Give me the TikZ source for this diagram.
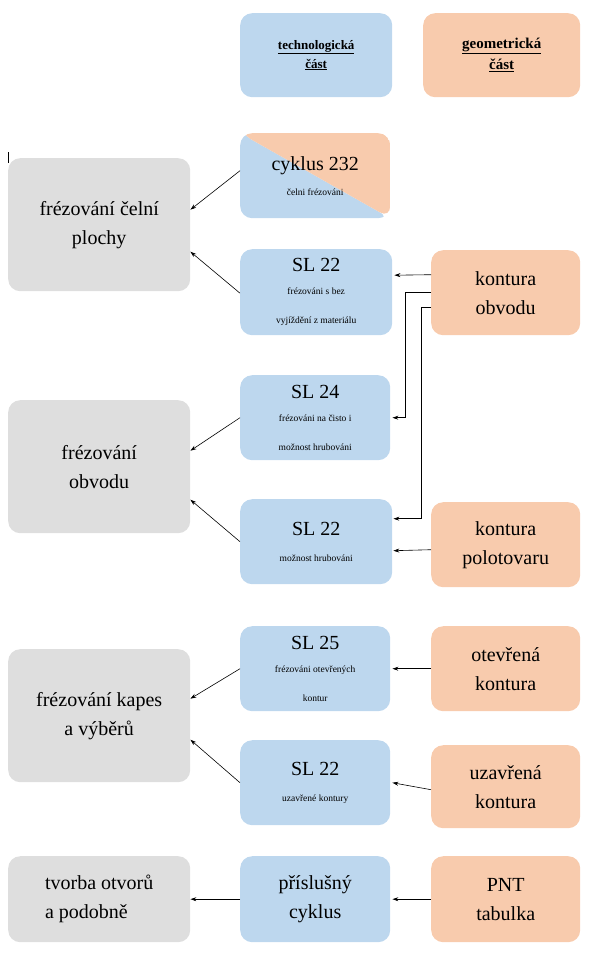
\documentclass[tikz,border=0pt]{standalone}
\usepackage{fontspec}
\setmainfont{Liberation Serif}
\usetikzlibrary{arrows.meta}
\definecolor{cblue}{HTML}{BDD7EE}
\definecolor{corange}{HTML}{F8CBAD}
\definecolor{cgray}{HTML}{DEDEDE}
\tikzset{
  bx/.style={rounded corners=12pt, inner sep=0pt, align=center, anchor=north west, font=\fontsize{20}{29}\selectfont},
  bl/.style={bx, fill=cblue},
  og/.style={bx, fill=corange},
  gr/.style={bx, fill=cgray},
  arr/.style={-{Stealth[length=6pt,width=4pt]}, line width=0.6pt},
}
\newcommand{\smf}{\fontsize{9.5}{15}\selectfont}
\begin{document}
\begin{tikzpicture}[x=1pt,y=-1pt]
\useasboundingbox (0,0) rectangle (601,956);
% headers
\node[bl, minimum width=152pt, minimum height=84pt, font=\fontsize{13}{19}\selectfont\bfseries] (ht) at (240,13) {\underline{technologická}\\\underline{část}};
\node[og, minimum width=157pt, minimum height=84pt, font=\fontsize{15}{21}\selectfont\bfseries] (hg) at (423,13) {\underline{geometrická}\\\underline{část}};
% gray
\node[gr, minimum width=182pt, minimum height=133pt] (g1) at (8,158) {frézování čelní\\plochy};
\node[gr, minimum width=182pt, minimum height=133pt] (g2) at (8,400) {frézování\\obvodu};
\node[gr, minimum width=182pt, minimum height=133pt] (g3) at (8,649) {frézování kapes\\a výběrů};
\node[gr, minimum width=182pt, minimum height=86pt, align=left] (g4) at (8,856) {tvorba otvorů\\a podobně};
% cyklus with diagonal split
\node[bx, minimum width=150pt, minimum height=85pt,
  path picture={\fill[cblue] (path picture bounding box.north west) -- (path picture bounding box.south east) -| cycle;
  \fill[corange] (path picture bounding box.north west) -- (path picture bounding box.south east) |- cycle;}] (cy) at (240,133) {cyklus 232\\[-4pt]\smf čelni frézováni};
% blue
\node[bl, minimum width=152pt, minimum height=86pt] (s1) at (240,249) {SL 22\\[-6pt]\smf frézováni s bez\\\smf vyjíždění z materiálu};
\node[bl, minimum width=150pt, minimum height=85pt] (s2) at (240,375) {SL 24\\[-6pt]\smf frézováni na čisto i\\\smf možnost hrubováni};
\node[bl, minimum width=152pt, minimum height=85pt] (s3) at (240,499) {SL 22\\[-3pt]\smf možnost hrubováni};
\node[bl, minimum width=150pt, minimum height=85pt] (s4) at (240,626) {SL 25\\[-6pt]\smf frézováni otevřených\\\smf kontur};
\node[bl, minimum width=150pt, minimum height=85pt] (s5) at (240,740) {SL 22\\[-3pt]\smf uzavřené kontury};
\node[bl, minimum width=150pt, minimum height=86pt] (s6) at (240,856) {příslušný\\cyklus};
% orange
\node[og, minimum width=149pt, minimum height=85pt] (o1) at (431,250) {kontura\\obvodu};
\node[og, minimum width=149pt, minimum height=85pt] (o2) at (431,502) {kontura\\polotovaru};
\node[og, minimum width=149pt, minimum height=85pt] (o3) at (431,626) {otevřená\\kontura};
\node[og, minimum width=149pt, minimum height=83pt] (o4) at (431,745) {uzavřená\\kontura};
\node[og, minimum width=149pt, minimum height=86pt] (o5) at (431,856) {PNT\\tabulka};
% cursor mark
\draw[line width=0.8pt] (8,152) -- (8,163);
% left arrows
\draw[arr] ([yshift=5pt]cy.west) -- ([yshift=15pt]g1.east);
\draw[arr] ([yshift=-1pt]s1.west) -- ([yshift=-27pt]g1.east);
\draw[arr] (s2.west) -- ([yshift=16pt]g2.east);
\draw[arr] (s3.west) -- ([yshift=-33pt]g2.east);
\draw[arr] (s4.west) -- ([yshift=17pt]g3.east);
\draw[arr] (s5.west) -- ([yshift=-24pt]g3.east);
\draw[arr] (s6.west) -- (g4.east);
% right arrows
\draw[arr] ([yshift=18pt]o1.west) -- ([yshift=17pt,xshift=2pt]s1.east);
\draw[arr] (o1.west) -- ++(-26,0) |- ([xshift=2pt]s2.east);
\draw[arr] ([yshift=-15pt]o1.west) -- ++(-10,0) |- ([yshift=23pt,xshift=1pt]s3.east);
\draw[arr] ([yshift=-5pt]o2.west) -- ([yshift=-9pt,xshift=1pt]s3.east);
\draw[arr] (o3.west) -- ([xshift=2pt]s4.east);
\draw[arr] ([yshift=-3pt]o4.west) -- ([xshift=2pt]s5.east);
\draw[arr] (o5.west) -- ([xshift=2pt]s6.east);
\end{tikzpicture}
\end{document}
